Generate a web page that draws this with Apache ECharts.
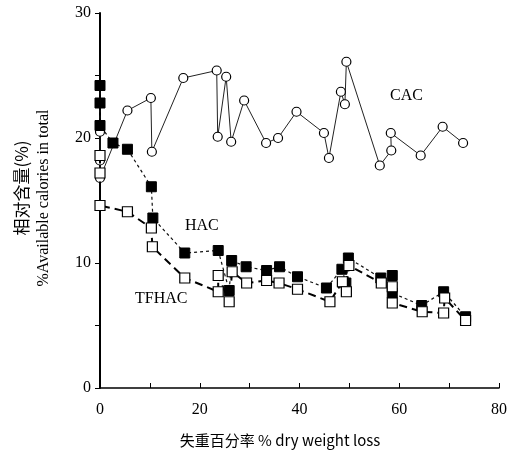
<!DOCTYPE html>
<html>
<head>
<meta charset="utf-8">
<script src="https://cdn.jsdelivr.net/npm/echarts@6/dist/echarts.min.js"></script>
<style>
  html, body { margin: 0; padding: 0; background: #fff; }
  #chart { width: 516px; height: 455px; }
</style>
</head>
<body>
<div id="chart"></div>
<script>
// x = dry weight loss (%), y = % available calories in total
const cacData = [
  [0, 20.5], [0, 18.2], [0, 16.8], [5.5, 22.2], [10.2, 23.2], [10.4, 18.9],
  [16.7, 24.8], [23.4, 25.4], [23.6, 20.1], [25.3, 24.9], [26.3, 19.7],
  [28.9, 23.0], [33.3, 19.6], [35.7, 20.0], [39.4, 22.1], [44.9, 20.4],
  [45.9, 18.4], [48.3, 23.7], [49.1, 22.7], [49.4, 26.1], [56.1, 17.8],
  [58.4, 19.0], [58.3, 20.4], [64.3, 18.6], [68.7, 20.9], [72.8, 19.6]
]
const hacData = [
  [0, 24.2], [0, 22.8], [0, 21.0], [2.6, 19.6], [5.5, 19.1], [10.3, 16.1],
  [10.6, 13.6], [17.0, 10.8], [23.7, 11.0], [25.9, 7.8], [26.4, 10.2],
  [29.3, 9.7], [33.4, 9.4], [36.0, 9.7], [39.6, 8.9], [45.4, 8.0],
  [48.5, 9.5], [49.3, 8.4], [49.8, 10.4], [56.3, 8.8], [58.6, 9.0],
  [58.6, 7.6], [64.5, 6.6], [68.9, 7.7], [73.3, 5.7]
]
const tfhacData = [
  [0, 18.6], [0, 17.2], [0, 14.6], [5.5, 14.1], [10.3, 12.8], [10.5, 11.3],
  [17.0, 8.8], [23.7, 7.7], [23.7, 9.0], [25.9, 6.9], [26.5, 9.3],
  [29.4, 8.4], [33.4, 8.6], [35.9, 8.4], [39.6, 7.9], [46.1, 6.9],
  [48.6, 8.5], [49.4, 7.7], [49.9, 9.8], [56.4, 8.4], [58.6, 8.1],
  [58.6, 6.8], [64.6, 6.1], [68.9, 6.0], [69.1, 7.2], [73.3, 5.4]
]
const seriesNames = ['CAC', 'HAC', 'TFHAC']

const serif = '"Liberation Serif", "DejaVu Serif", serif'
const cjk = '"Noto Sans CJK SC", "Liberation Serif", serif'

const chart = echarts.init(document.getElementById('chart'))

chart.setOption({
  animation: false,
  backgroundColor: '#fff',
  grid: { left: 100, right: 17, top: 13, bottom: 67 },
  xAxis: {
    type: 'value',
    min: 0,
    max: 80,
    interval: 10,
    splitLine: { show: false },
    axisLine: { lineStyle: { color: '#000', width: 1.5 } },
    axisTick: { inside: true, length: 5, lineStyle: { color: '#000' } },
    axisLabel: {
      color: '#000',
      fontFamily: serif,
      fontSize: 16,
      margin: 14,
      formatter: v => (v % 20 === 0 ? String(v) : '')
    }
  },
  yAxis: {
    type: 'value',
    min: 0,
    max: 30,
    interval: 5,
    splitLine: { show: false },
    axisLine: { lineStyle: { color: '#000', width: 2 } },
    axisTick: { length: 5, lineStyle: { color: '#000' } },
    axisLabel: {
      color: '#000',
      fontFamily: serif,
      fontSize: 16,
      margin: 9,
      formatter: v => (v % 10 === 0 ? String(v) : '')
    }
  },
  series: [
    {
      name: seriesNames[0],
      type: 'line',
      data: cacData,
      symbol: 'circle',
      symbolSize: 9,
      itemStyle: { color: '#fff', borderColor: '#000', borderWidth: 1.2 },
      lineStyle: { color: '#222', width: 1 },
      z: 2
    },
    {
      name: seriesNames[1],
      type: 'line',
      data: hacData,
      symbol: 'rect',
      symbolSize: 10,
      itemStyle: { color: '#000', borderColor: '#000', borderWidth: 1 },
      lineStyle: { color: '#111', width: 1.2, type: [3, 3] },
      z: 3
    },
    {
      name: seriesNames[2],
      type: 'line',
      data: tfhacData,
      symbol: 'rect',
      symbolSize: 10,
      itemStyle: { color: '#fff', borderColor: '#000', borderWidth: 1.2 },
      lineStyle: { color: '#000', width: 2, type: [8, 5] },
      z: 4
    }
  ],
  graphic: [
    { type: 'text', left: 390, top: 88, style: { text: 'CAC', font: '16px ' + serif, fill: '#000' } },
    { type: 'text', left: 185, top: 218, style: { text: 'HAC', font: '16px ' + serif, fill: '#000' } },
    { type: 'text', left: 135, top: 291, style: { text: 'TFHAC', font: '16px ' + serif, fill: '#000' } },
    {
      type: 'text', x: 22, y: 188, rotation: Math.PI / 2,
      style: { text: '相对含量(%)', font: '17px ' + cjk, fill: '#000', align: 'center', verticalAlign: 'middle' }
    },
    {
      type: 'text', x: 44, y: 198, rotation: Math.PI / 2,
      style: { text: '%Available calories in total', font: '16px ' + serif, fill: '#000', align: 'center', verticalAlign: 'middle' }
    },
    {
      type: 'text', x: 280, y: 440,
      style: { text: '失重百分率 % dry weight loss', font: '15px ' + cjk, fill: '#000', align: 'center', verticalAlign: 'middle' }
    }
  ]
})
</script>
</body>
</html>
